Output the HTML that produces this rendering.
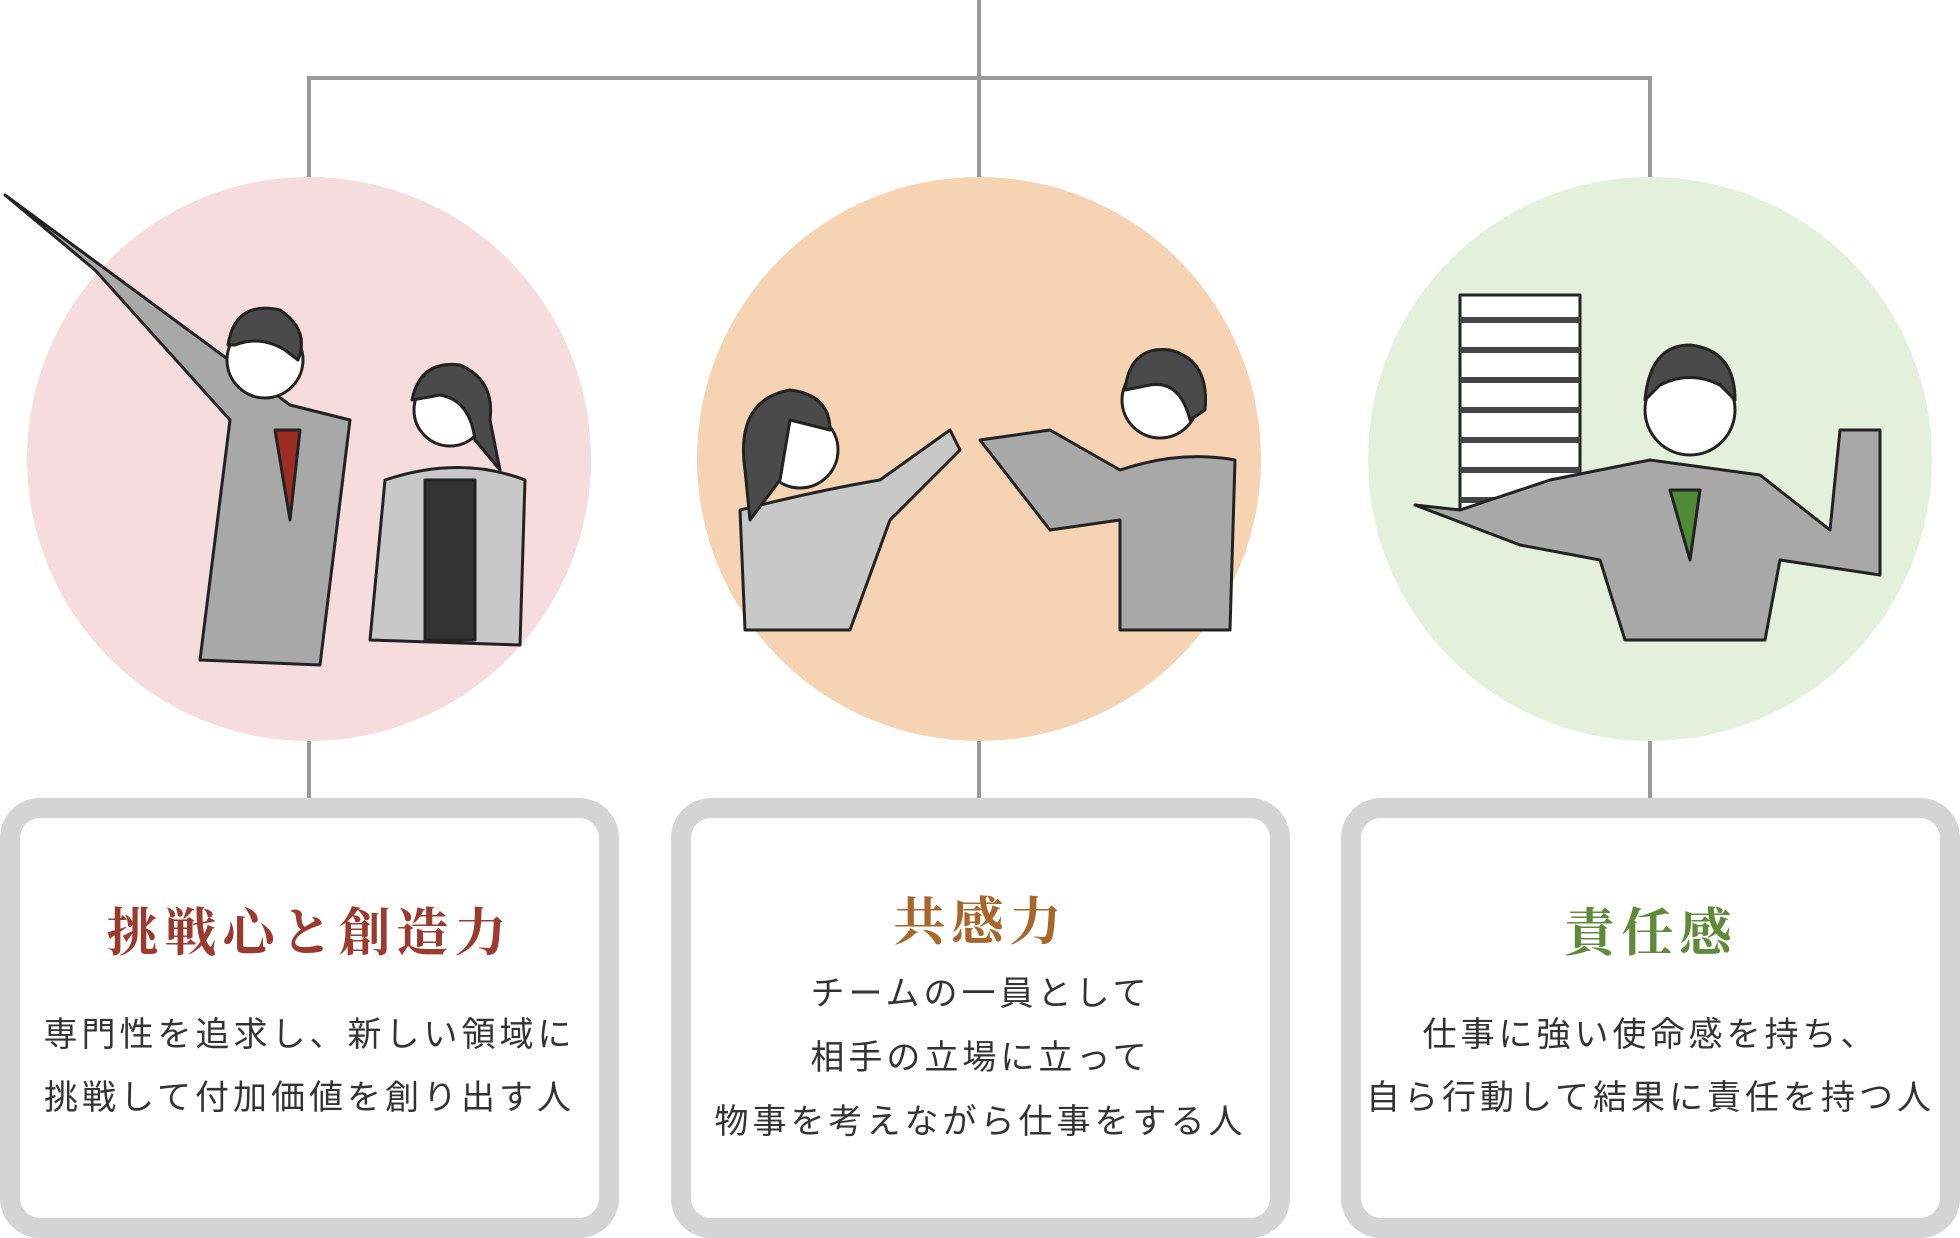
<!DOCTYPE html>
<html><head><meta charset="utf-8"><style>
html,body{margin:0;padding:0;background:#fff;}
body{width:1960px;height:1238px;position:relative;overflow:hidden;font-family:"Liberation Sans","Noto Sans CJK JP",sans-serif;}
.box{position:absolute;top:798px;width:579px;height:400px;border:20px solid #d4d4d4;border-radius:40px;background:#fff;}
.t{position:absolute;left:0;right:0;text-align:center;white-space:nowrap;}
.title{font-family:"Liberation Serif","Noto Serif CJK SC",serif;font-size:52px;font-weight:bold;letter-spacing:6px;}
.body{font-size:34px;color:#333;letter-spacing:4px;}
</style></head><body>
<svg width="1960" height="1238" style="position:absolute;left:0;top:0">
<g stroke="#9a9a9a" stroke-width="4" fill="none">
<line x1="979" y1="0" x2="979" y2="180"/>
<polyline points="309,180 309,78 1650,78 1650,180"/>
<line x1="309" y1="740" x2="309" y2="798"/>
<line x1="979" y1="740" x2="979" y2="798"/>
<line x1="1650" y1="740" x2="1650" y2="798"/>
</g>
<circle cx="309" cy="459" r="282" fill="#f6dcdf"/>
<circle cx="979" cy="459" r="282" fill="#f6d3b3"/>
<circle cx="1650" cy="459" r="282" fill="#e5f0dc"/>
<g stroke="#222" stroke-width="3" stroke-linejoin="round">
<path d="M5,195 L95,270 L230,420 L200,660 L320,665 L350,420 L290,405 Z" fill="#a8a8a8"/>
<circle cx="265" cy="360" r="38" fill="#fff"/>
<path d="M228,345 Q235,300 280,310 Q310,330 298,360 L285,350 Q260,335 235,345Z" fill="#4a4a4a"/>
<path d="M275,430 L290,520 L300,430Z" fill="#9b2d22"/>
<path d="M385,480 L370,640 L520,645 L525,480 Q460,455 385,480Z" fill="#c8c8c8"/>
<rect x="425" y="480" width="50" height="160" fill="#333"/>
<circle cx="450" cy="410" r="36" fill="#fff"/>
<path d="M412,400 Q420,360 460,365 Q495,380 490,420 L500,470 L475,440 Q470,400 440,395Z" fill="#4a4a4a"/>
<path d="M745,630 L740,510 Q820,490 880,480 L950,430 L960,450 L890,520 L850,630Z" fill="#c8c8c8"/>
<circle cx="800" cy="450" r="38" fill="#fff"/>
<path d="M745,470 Q735,400 790,390 Q830,395 830,430 L790,420 L780,480 L750,520Z" fill="#4a4a4a"/>
<path d="M1230,630 L1235,460 Q1180,450 1120,470 L1050,430 L980,440 L1050,530 L1120,520 L1120,630Z" fill="#a8a8a8"/>
<circle cx="1160" cy="400" r="38" fill="#fff"/>
<path d="M1125,390 Q1130,345 1170,350 Q1210,360 1205,410 L1190,420 Q1180,380 1150,385Z" fill="#4a4a4a"/>
<rect x="1460" y="295" width="120" height="220" fill="#fff"/>
<g stroke="#444" stroke-width="6"><line x1="1460" y1="320" x2="1580" y2="320"/><line x1="1460" y1="350" x2="1580" y2="350"/><line x1="1460" y1="380" x2="1580" y2="380"/><line x1="1460" y1="410" x2="1580" y2="410"/><line x1="1460" y1="440" x2="1580" y2="440"/><line x1="1460" y1="470" x2="1580" y2="470"/><line x1="1460" y1="500" x2="1580" y2="500"/></g>
<path d="M1415,505 L1520,545 L1600,560 L1625,640 L1765,640 L1780,560 L1880,575 L1880,430 L1840,430 L1830,530 L1760,475 L1650,460 L1550,480 L1460,510Z" fill="#a8a8a8"/>
<path d="M1670,490 L1690,560 L1700,490Z" fill="#4f8a35"/>
<circle cx="1690" cy="410" r="45" fill="#fff"/>
<path d="M1645,400 Q1650,345 1690,345 Q1735,350 1735,400 L1720,385 Q1690,370 1660,385Z" fill="#4a4a4a"/>
</g>
</svg>

<div class="box" style="left:0">
 <div class="t title" style="top:73px;color:#9b3a2e">挑戦心と創造力</div>
 <div class="t body" style="top:189px">専門性を追求し、新しい領域に</div>
 <div class="t body" style="top:252px">挑戦して付加価値を創り出す人</div>
</div>
<div class="box" style="left:671px">
 <div class="t title" style="top:62px;color:#a8662a">共感力</div>
 <div class="t body" style="top:148px">チームの一員として</div>
 <div class="t body" style="top:212px">相手の立場に立って</div>
 <div class="t body" style="top:276px">物事を考えながら仕事をする人</div>
</div>
<div class="box" style="left:1341px">
 <div class="t title" style="top:73px;color:#5e8a3a">責任感</div>
 <div class="t body" style="top:189px">仕事に強い使命感を持ち、</div>
 <div class="t body" style="top:252px">自ら行動して結果に責任を持つ人</div>
</div>
</body></html>
